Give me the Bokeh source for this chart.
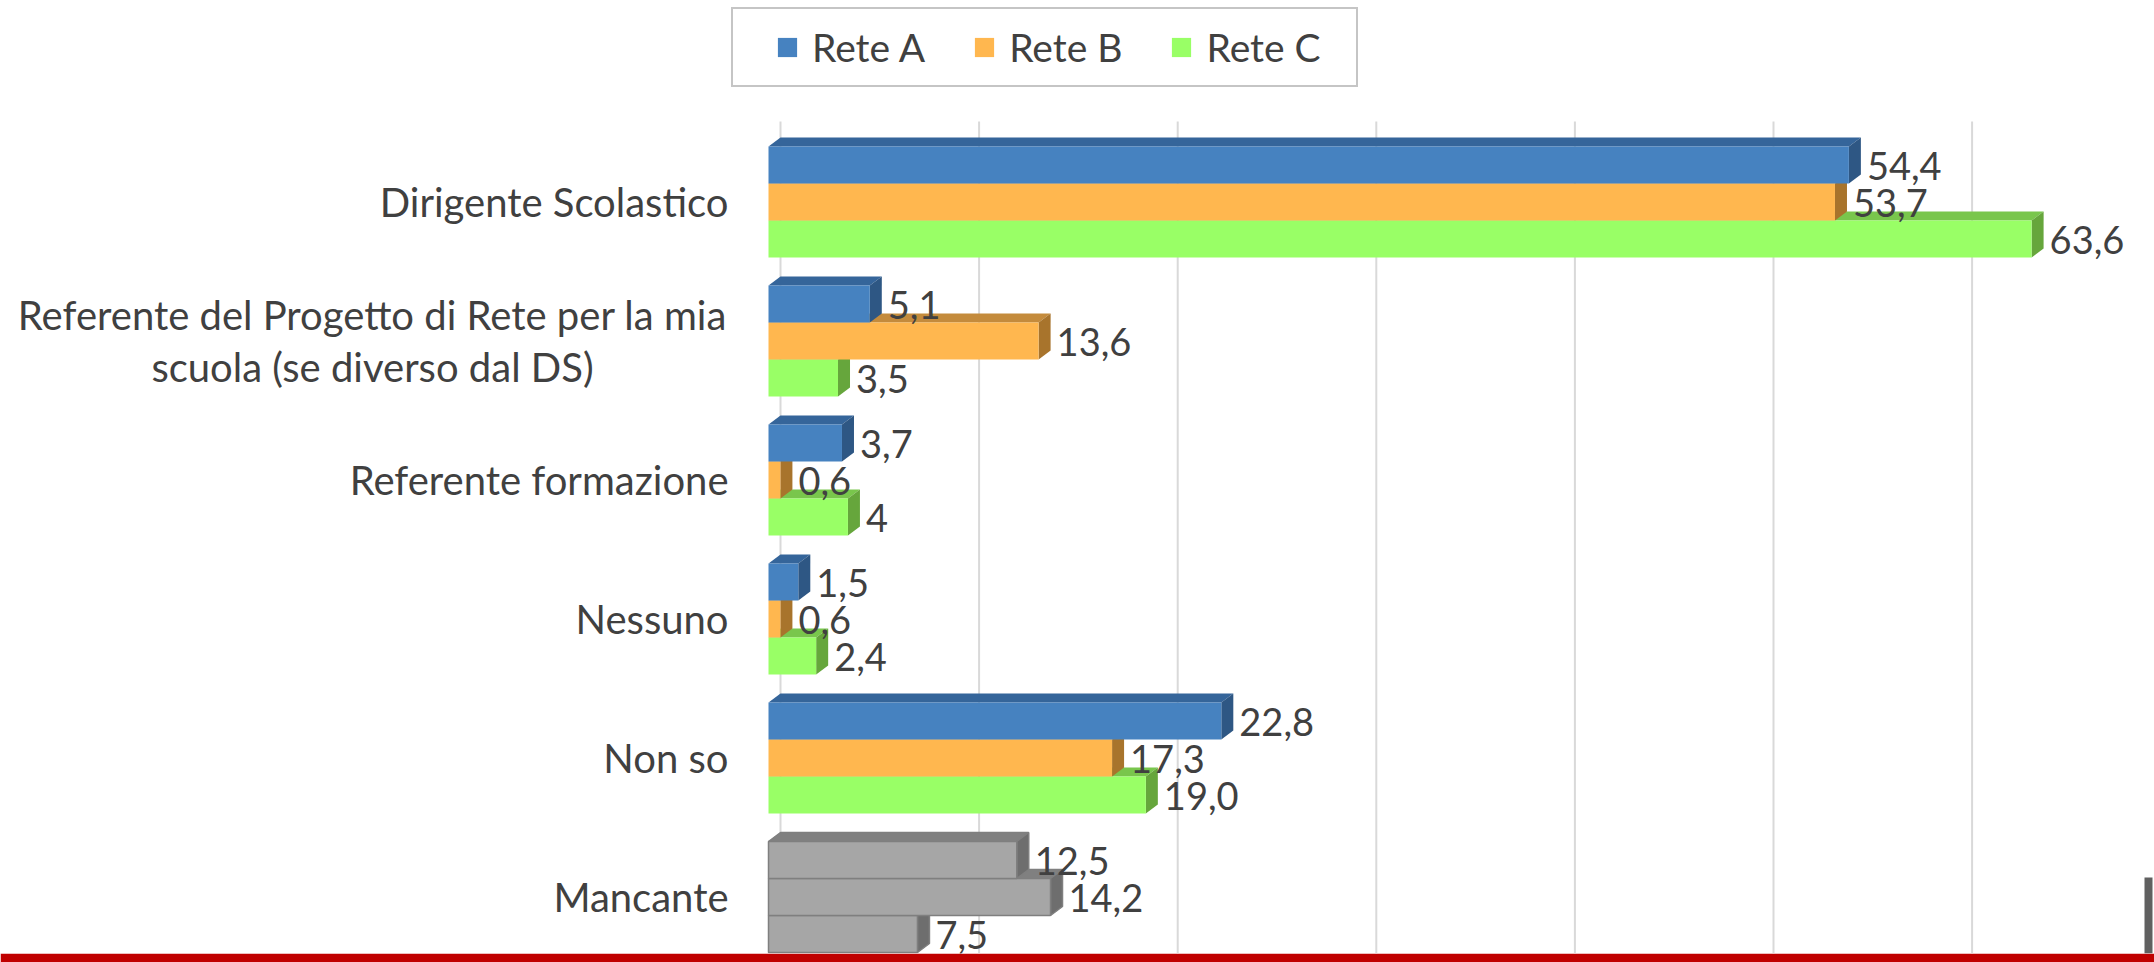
from bokeh.plotting import figure
from bokeh.models import ColumnDataSource, Range1d, Legend, LegendItem
from bokeh.core.properties import value
from bokeh.embed import file_html
from bokeh.resources import INLINE

# ---------------- data ----------------
categories = [
    "Dirigente Scolastico",
    "Referente del Progetto di Rete per la mia\nscuola (se diverso dal DS)",
    "Referente formazione",
    "Nessuno",
    "Non so",
    "Mancante",
]
series_names = ["Rete A", "Rete B", "Rete C"]
rete_a = [54.4, 5.1, 3.7, 1.5, 22.8, 12.5]
rete_b = [53.7, 13.6, 0.6, 0.6, 17.3, 14.2]
rete_c = [63.6, 3.5, 4.0, 2.4, 19.0, 7.5]
labels_a = ["54,4", "5,1", "3,7", "1,5", "22,8", "12,5"]
labels_b = ["53,7", "13,6", "0,6", "0,6", "17,3", "14,2"]
labels_c = ["63,6", "3,5", "4", "2,4", "19,0", "7,5"]
grid_ticks = [0, 10, 20, 30, 40, 50, 60]

# ---------------- style ----------------
FONT = "Lato"
TXT = "#404040"
front_cols = ["#4682C0", "#FFB74F", "#99FF66"]
top_cols = ["#35659A", "#C48B3C", "#79C64C"]
side_cols = ["#2E5784", "#A8742C", "#66A63C"]
grey_front, grey_top, grey_side, grey_line = "#A6A6A6", "#808080", "#6E6E6E", "#7F7F7F"

W, H = 2154, 962
BORDER_B = 9
FH = H - BORDER_B
PXX = 19.86          # px per x unit
PXY = 139.0          # px per category
x0 = -768 / PXX
x1 = x0 + W / PXX
y1 = 201.5 / PXY
y0 = y1 - FH / PXY

DX = 12 / PXX        # 3D depth offsets
DY = 9 / PXY
BH = 37 / PXY        # bar thickness

p = figure(width=W, height=H, output_backend="svg", toolbar_location=None,
           x_range=Range1d(x0, x1), y_range=Range1d(y0, y1),
           x_axis_location=None, y_axis_location=None,
           min_border=0, min_border_bottom=BORDER_B,
           border_fill_color="#C00000", background_fill_color="white",
           outline_line_color=None)
p.grid.visible = False

# gridlines on the back wall
grid_top = y1 - 121 / PXY
p.segment(x0=[t + DX for t in grid_ticks], x1=[t + DX for t in grid_ticks],
          y0=[grid_top] * len(grid_ticks), y1=[y0] * len(grid_ticks),
          line_color="#D9D9D9", line_width=2)

all_vals = [rete_a, rete_b, rete_c]
all_labels = [labels_a, labels_b, labels_c]
n = len(categories)
front_renderers = {}

# draw bottom series first so upper bars overlap correctly
for s in [2, 1, 0]:
    vals = all_vals[s]
    yc = [-i + (1 - s) * BH for i in range(n)]
    bot = [y - BH / 2 for y in yc]
    top = [y + BH / 2 for y in yc]
    grey = [categories[i] == "Mancante" for i in range(n)]
    fc = [grey_front if g else front_cols[s] for g in grey]
    tc = [grey_top if g else top_cols[s] for g in grey]
    sc = [grey_side if g else side_cols[s] for g in grey]
    lc = [grey_line if g else fc[i] for i, g in enumerate(grey)]
    la = [1.0 if g else 0.0 for g in grey]

    top_xs = [[0, v, v + DX, DX] for v in vals]
    top_ys = [[t, t, t + DY, t + DY] for t in top]
    p.patches(top_xs, top_ys, fill_color=tc, line_color=lc, line_alpha=la, line_width=1.5)
    side_xs = [[v, v, v + DX, v + DX] for v in vals]
    side_ys = [[b, t, t + DY, b + DY] for b, t in zip(bot, top)]
    p.patches(side_xs, side_ys, fill_color=sc, line_color=lc, line_alpha=la, line_width=1.5)

    src = ColumnDataSource(dict(left=[0] * n, right=vals, bottom=bot, top=top,
                                fc=fc, lc=lc, la=la))
    r = p.quad(left="left", right="right", bottom="bottom", top="top", source=src,
               fill_color="fc", line_color="lc", line_alpha="la", line_width=1.5)
    front_renderers[s] = r

    p.text(x=vals, y=yc, text=all_labels[s], x_offset=18, y_offset=1,
           text_font=value(FONT), text_font_size=value("38px"), text_color=TXT,
           text_align="left", text_baseline="middle")

# category labels
lab_right = x0 + 728 / PXX
lab_center = x0 + 372 / PXX
LINE_GAP = 52 / PXY
lx, ly, lt, la_ = [], [], [], []
for i, c in enumerate(categories):
    lines = c.split("\n")
    k = len(lines)
    for j, line in enumerate(lines):
        lx.append(lab_right if k == 1 else lab_center)
        ly.append(-i + ((k - 1) / 2 - j) * LINE_GAP)
        lt.append(line)
        la_.append("right" if k == 1 else "center")
p.text(x=lx, y=ly, text=lt, text_align=la_,
       text_font=value(FONT), text_font_size=value("40px"), text_color=TXT,
       text_baseline="middle")

# artefact at right edge (dark scroll mark)
p.quad(left=[x0 + 2144 / PXX], right=[x0 + 2152 / PXX],
       bottom=[y0], top=[y1 - 877 / PXY], fill_color="#606060", line_color=None)

legend = Legend(items=[LegendItem(label=series_names[s], renderers=[front_renderers[s]], index=0)
                       for s in range(3)],
                orientation="horizontal", location=(731, 866),
                label_text_font=FONT, label_text_font_size="39px", label_text_color=TXT,
                glyph_width=24, glyph_height=24, label_standoff=13, spacing=47,
                border_line_color="#8C8C8C", border_line_width=2,
                background_fill_color="white", background_fill_alpha=1.0)
try:
    legend.padding = (42, 35, 15, 15)
except Exception:
    legend.padding = 15
p.add_layout(legend, "center")

open("out.html", "w").write(file_html(p, INLINE))
